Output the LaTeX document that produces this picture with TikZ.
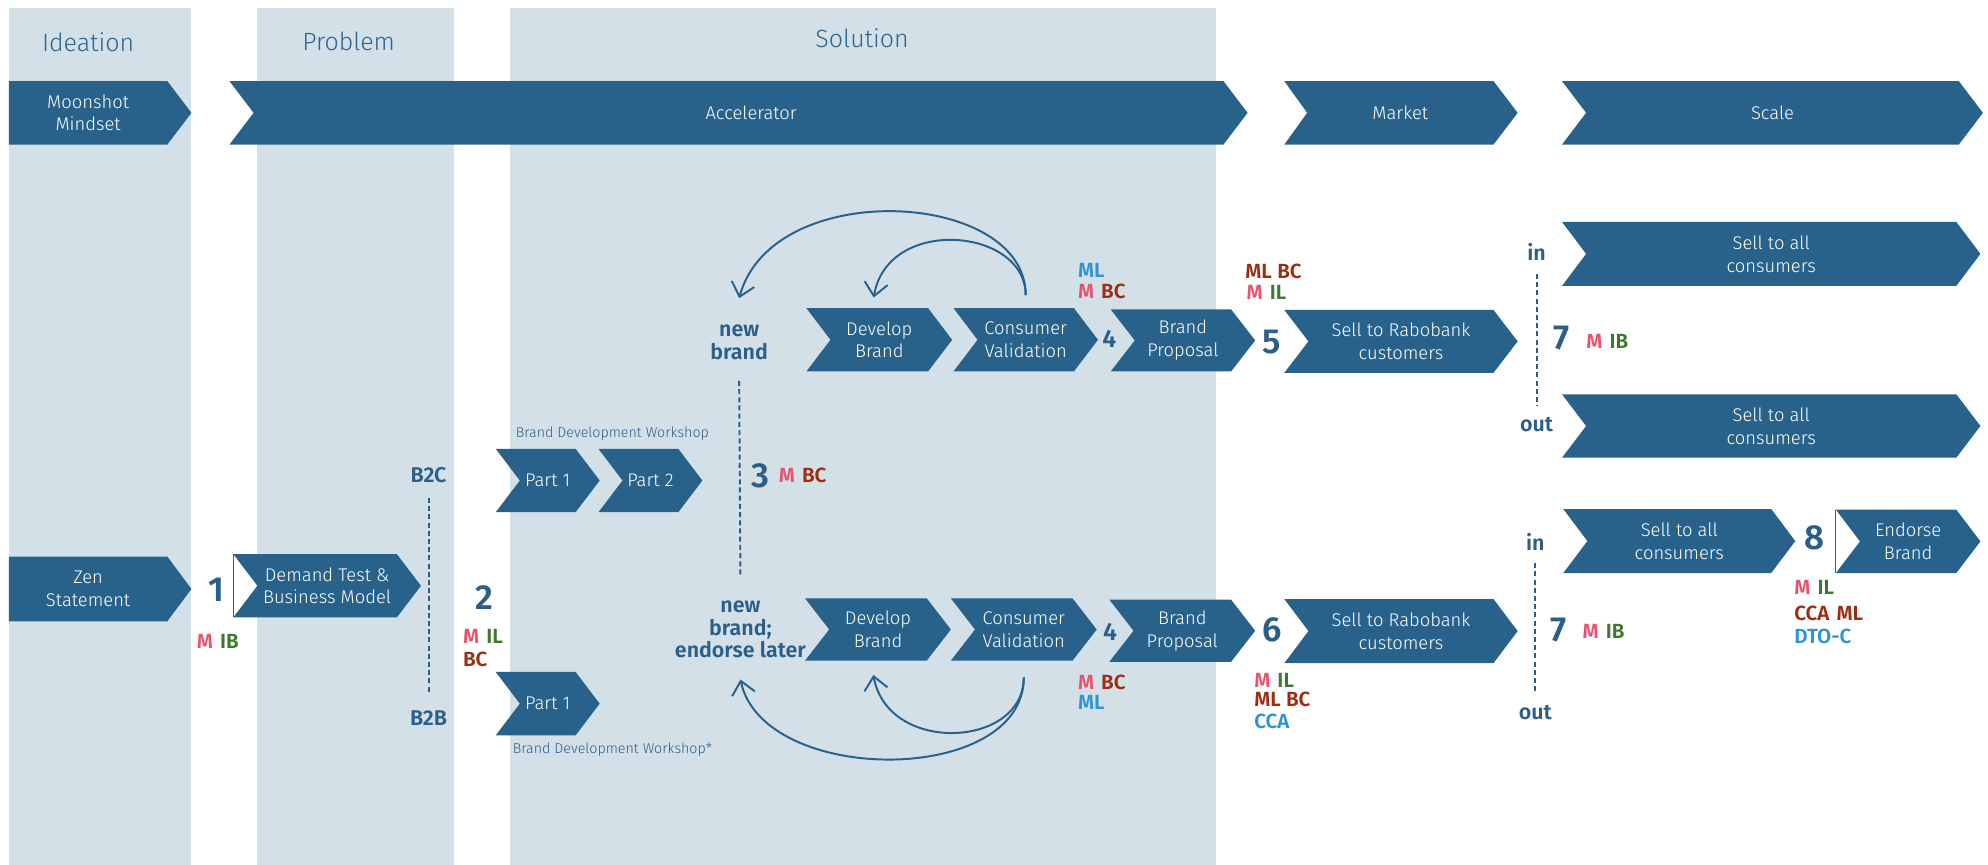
\documentclass[tikz,border=0pt]{standalone}
\usepackage{fontspec}
\setmainfont{Fira Sans Light}[BoldFont={Fira Sans SemiBold}, Numbers=Lining]
\usetikzlibrary{arrows.meta,calc}
\definecolor{cb}{HTML}{28628B}
\definecolor{cbg}{HTML}{D4E0E8}
\definecolor{ctitle}{HTML}{2D6490}
\definecolor{cnum}{HTML}{2B5E88}
\definecolor{cm}{HTML}{E9526F}
\definecolor{cg}{HTML}{3B7A2B}
\definecolor{cr}{HTML}{9C2D12}
\definecolor{cl}{HTML}{2F95D2}
\tikzset{
  chevfill/.style={fill=cb},
  chevtext/.style={text=white, font=\fontsize{10.3}{12.8}\selectfont, align=center, inner sep=0pt},
  coltitle/.style={text=ctitle, font=\fontsize{14}{16}\selectfont, inner sep=0pt},
  num/.style={text=cnum, font=\bfseries\fontsize{19.5}{20}\selectfont, inner sep=0pt},
  smallnum/.style={text=cnum, font=\bfseries\fontsize{14}{15}\selectfont, inner sep=0pt},
  lab/.style={font=\bfseries\fontsize{11.5}{13}\selectfont, inner sep=0pt, anchor=west},
  tag/.style={text=cnum, font=\bfseries\fontsize{12}{12.8}\selectfont, align=center, inner sep=0pt},
  wstext/.style={text=cnum, font=\fontsize{8}{10}\selectfont, inner sep=0pt},
  dl/.style={draw=cnum, line width=1.1pt, dash pattern=on 2.8pt off 1.8pt},
  loop/.style={draw=cb, line width=1.1pt, -{Straight Barb[length=2.6mm,width=4.6mm]}},
}
% #1 node options, #2 name, #3 x left, #4 x tip, #5 y top, #6 y bottom, #7 notch depth, #8 text
\newcommand\chv[8]{%
  \fill[chevfill] (#3,#5) -- ({#4-19},#5) -- (#4,{(#5+#6)/2}) -- ({#4-19},#6) -- (#3,#6) -- ({#3+#7},{(#5+#6)/2}) -- cycle;
  \node[chevtext, minimum width={(#4-19-#3-#7)*0.25mm}, minimum height={(#6-#5)*0.25mm}, #1] (#2) at ({(#3+#7+#4-19)/2},{(#5+#6)/2}) {#8};
}
\begin{document}
\begin{tikzpicture}[x=0.25mm,y=-0.25mm]
\useasboundingbox (0,0) rectangle (1568,682);
% background columns
\fill[cbg] (7,6) rectangle (151,682);
\fill[cbg] (202.5,6) rectangle (358,682);
\fill[cbg] (402.5,6) rectangle (959,682);
\node[coltitle] (tIde) at (69.5,33) {Ideation};
\node[coltitle] (tPro) at (275,33) {Problem};
\node[coltitle] (tSol) at (680,30) {Solution};
% top row
\chv{}{moon}{7}{151}{64}{114}{0}{Moonshot\\Mindset}
\chv{xshift=2.5mm}{accel}{181}{984}{64}{114}{19}{Accelerator}
\chv{}{market}{1013}{1197}{64}{114}{18}{Market}
\chv{}{scale}{1232}{1564}{64}{114}{19}{Scale}
% ideation / problem
\chv{}{zen}{7}{151}{439}{490}{0}{Zen\\Statement}
\chv{}{demand}{184}{332}{437}{487}{19}{Demand Test \&\\Business Model}
\draw[cb, line width=0.6pt] (184,437) -- (184,487);
\node[num] (n1) at (171,465) {1};
\node[lab] (l1) at (155,506) {\textcolor{cm}{M}\hspace{4pt}\textcolor{cg}{IB}};
\node[tag] (b2c) at (338,375) {B2C};
\node[tag] (b2b) at (338,566) {B2B};
\draw[dl] ([yshift=-2.85mm]b2c.south) -- ([yshift=3.35mm]b2b.north);
\node[num] (n2) at (382,471) {2};
\node[lab] (l2a) at (365,502) {\textcolor{cm}{M}\hspace{4pt}\textcolor{cg}{IL}};
\node[lab] (l2b) at (365,520) {\textcolor{cr}{BC}};
% workshops
\node[wstext] (ws1) at (483,342) {Brand Development Workshop};
\chv{}{p1u}{391}{473}{354}{404}{19}{Part 1}
\chv{}{p2u}{472}{554}{354}{404}{19}{Part 2}
\chv{}{p1l}{391}{473}{530}{580}{19}{Part 1}
\node[wstext] (ws2) at (483,591) {Brand Development Workshop*};
% solution branch
\node[tag] (nbu) at (583,270) {new\\brand};
\node[tag] (nbl) at (584,496.5) {new\\brand;\\endorse later};
\draw[dl] ([yshift=-4.1mm]nbu.south) -- ([yshift=4.6mm]nbl.north);
\node[num] (n3) at (600,375) {3};
\node[lab] (l3) at (614,375) {\textcolor{cm}{M}\hspace{4pt}\textcolor{cr}{BC}};
% upper row
\chv{}{dbu}{636}{751}{243}{293}{19}{Develop\\Brand}
\chv{}{cvu}{752}{866}{243}{293}{19}{Consumer\\Validation}
\node[smallnum] (n4u) at (875,267) {4};
\chv{}{bpu}{876}{990}{244}{293}{19}{Brand\\Proposal}
\node[num] (n5) at (1003,270) {5};
\chv{}{sru}{1013}{1197}{244.5}{294}{19}{Sell to Rabobank\\customers}
\node[lab] (l4ua) at (850,213) {\textcolor{cl}{ML}};
\node[lab] (l4ub) at (850,230) {\textcolor{cm}{M}\hspace{4pt}\textcolor{cr}{BC}};
\node[lab] (l5a) at (982,214) {\textcolor{cr}{ML}\hspace{3pt}\textcolor{cr}{BC}};
\node[lab] (l5b) at (983,231) {\textcolor{cm}{M}\hspace{4pt}\textcolor{cg}{IL}};
% lower row
\chv{}{dbl}{635}{750}{472}{521}{19}{Develop\\Brand}
\chv{}{cvl}{750}{865}{472}{521}{19}{Consumer\\Validation}
\node[smallnum] (n4l) at (875.5,498) {4};
\chv{}{bpl}{875}{990}{473}{522}{19}{Brand\\Proposal}
\node[num] (n6) at (1003,497) {6};
\chv{}{srl}{1013}{1197}{472.5}{523}{19}{Sell to Rabobank\\customers}
\node[lab] (l4la) at (850,538) {\textcolor{cm}{M}\hspace{4pt}\textcolor{cr}{BC}};
\node[lab] (l4lb) at (850,554) {\textcolor{cl}{ML}};
\node[lab] (l6a) at (989,537) {\textcolor{cm}{M}\hspace{4pt}\textcolor{cg}{IL}};
\node[lab] (l6b) at (989,552) {\textcolor{cr}{ML}\hspace{3pt}\textcolor{cr}{BC}};
\node[lab] (l6c) at (989,569) {\textcolor{cl}{CCA}};
% loops
\draw[loop] ([yshift=2.5mm]cvu.north) .. controls +(0,-83) and +(26,-96) .. ([yshift=5.2mm]nbu.north);
\draw[loop] ([yshift=2.5mm]cvu.north) .. controls +(0,-53) and +(11,-65) .. ([xshift=-1.1mm,yshift=2mm]dbu.north);
\draw[loop] ([yshift=-3.25mm]cvl.south) .. controls +(0,86) and +(18,84) .. ([yshift=-4.1mm]nbl.south);
\draw[loop] ([yshift=-3.25mm]cvl.south) .. controls +(0,56) and +(11,63) .. ([xshift=-0.9mm,yshift=-2.75mm]dbl.south);
% scale, upper
\node[tag] (in1) at (1212,199) {in};
\node[tag] (out1) at (1212,335) {out};
\draw[dl] ([yshift=-2.5mm]in1.south) -- ([yshift=2.1mm]out1.north);
\chv{}{sa1}{1232}{1562}{175}{225.5}{19}{Sell to all\\consumers}
\chv{}{sa2}{1232}{1562}{311}{361}{19}{Sell to all\\consumers}
\node[num] (n7u) at (1232,267) {7};
\node[lab] (l7u) at (1251,269) {\textcolor{cm}{M}\hspace{4pt}\textcolor{cg}{IB}};
% scale, lower
\node[tag] (in2) at (1211,427.5) {in};
\node[tag] (out2) at (1211,562) {out};
\draw[dl] ([yshift=-2.4mm]in2.south) -- ([yshift=2.1mm]out2.north);
\node[num] (n7l) at (1229,497) {7};
\node[lab] (l7l) at (1248,498) {\textcolor{cm}{M}\hspace{4pt}\textcolor{cg}{IB}};
\chv{}{sa3}{1233}{1416}{401.5}{452}{19}{Sell to all\\consumers}
\node[num] (n8) at (1431,424.5) {8};
\chv{}{eb}{1448}{1562}{402}{452}{19}{Endorse\\Brand}
\draw[cb, line width=0.6pt] (1448,402) -- (1448,452);
\node[lab] (l8a) at (1415,463) {\textcolor{cm}{M}\hspace{4pt}\textcolor{cg}{IL}};
\node[lab] (l8b) at (1415,483.5) {\textcolor{cr}{CCA}\hspace{4pt}\textcolor{cr}{ML}};
\node[lab] (l8c) at (1415,501.6) {\textcolor{cl}{DTO-C}};
\end{tikzpicture}
\end{document}
